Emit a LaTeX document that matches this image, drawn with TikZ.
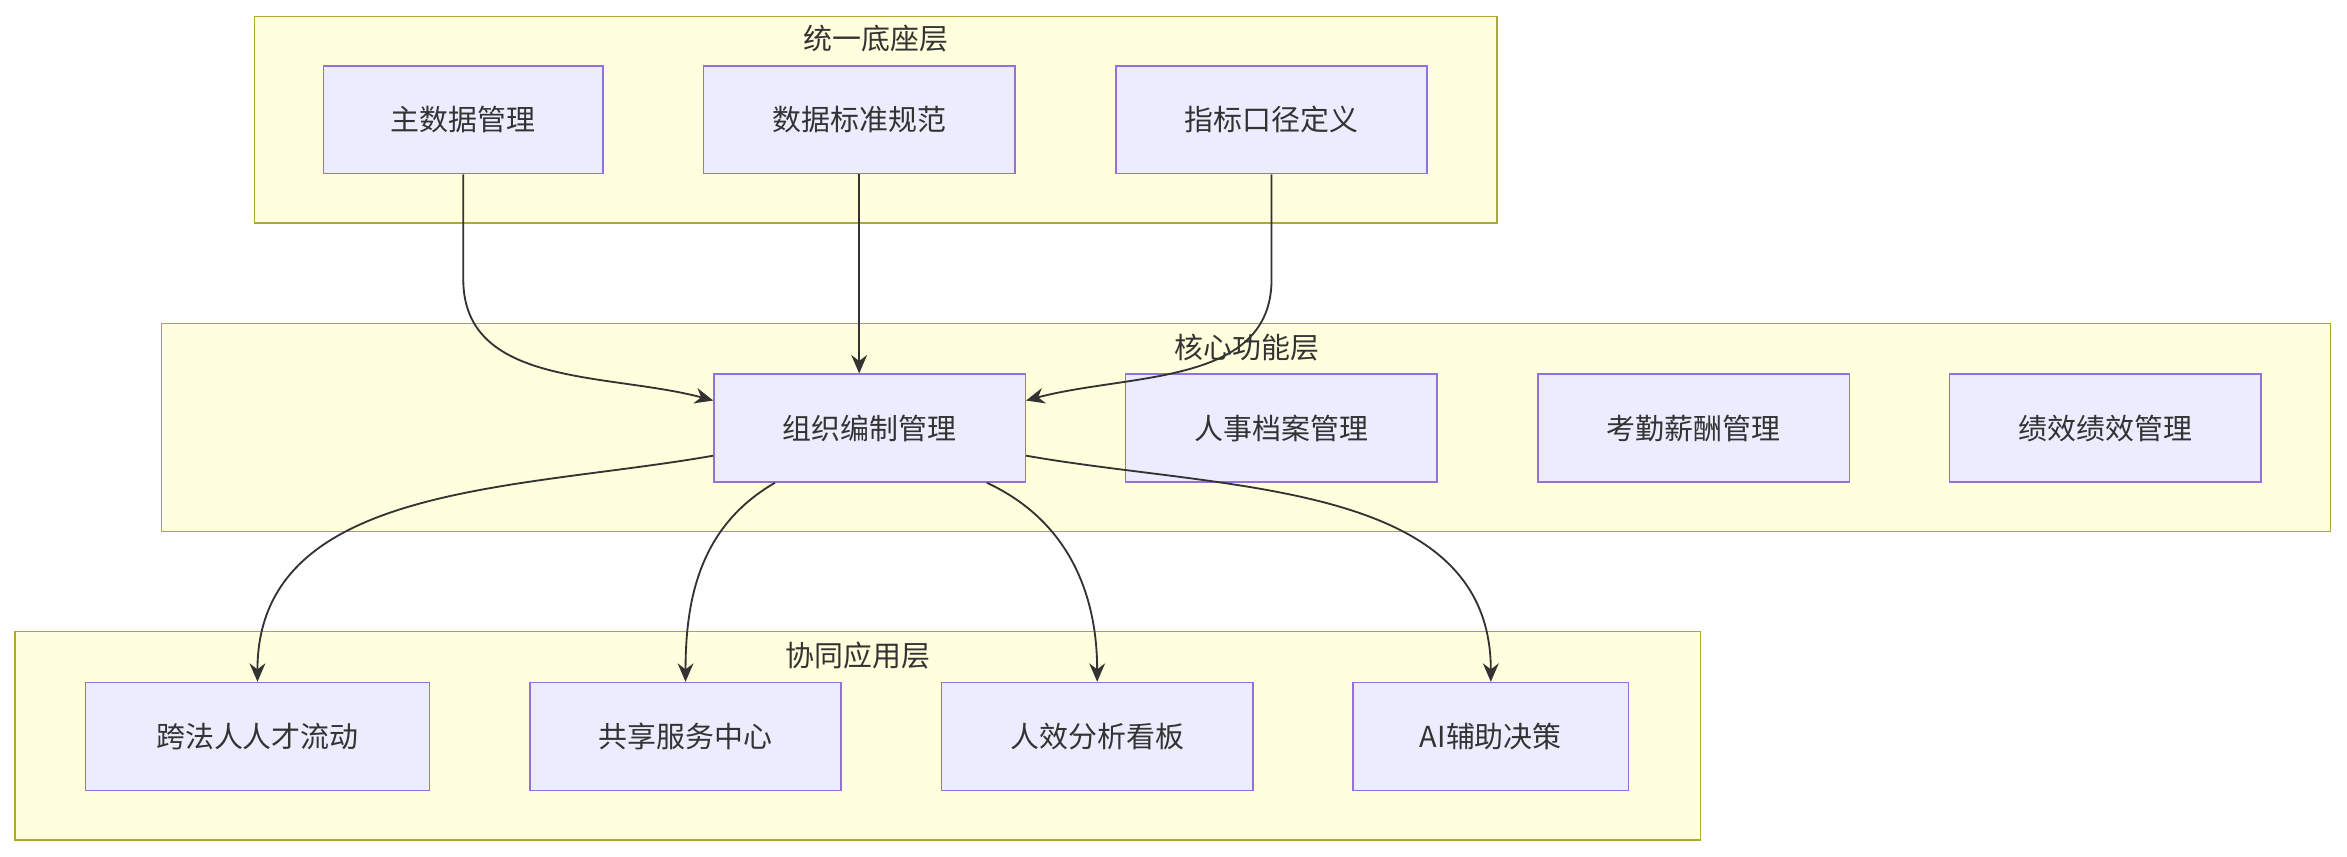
\documentclass[tikz,border=0pt]{standalone}
\usepackage{fontspec}
\setmainfont{Noto Sans CJK SC}
\usetikzlibrary{arrows.meta}
\definecolor{clfill}{HTML}{FFFFDE}
\definecolor{cldraw}{HTML}{AAAA33}
\definecolor{nfill}{HTML}{ECECFF}
\definecolor{ndraw}{HTML}{9370DB}
\definecolor{edge}{HTML}{333333}
\tikzset{
  layer/.style={draw=cldraw, fill=clfill, line width=0.6pt},
  layertitle/.style={font=\fontsize{11}{13}\selectfont, text=edge},
  box/.style={draw=ndraw, fill=nfill, line width=0.6pt, minimum width=4.16cm,
    minimum height=1.44cm, font=\fontsize{11}{13}\selectfont, text=edge},
  arr/.style={draw=edge, line width=0.7pt, -{Stealth[length=7pt,width=6pt]}}
}
\begin{document}
\begin{tikzpicture}[x=0.02cm, y=-0.02cm]
\useasboundingbox (0,0) rectangle (1568,572);

% layers
\draw[layer] (170,11) rectangle (1000,149);
\node[layertitle] (toptitle) at (585,26) {统一底座层};
\draw[layer] (108,216) rectangle (1557,355);
\node[layertitle] (midtitle) at (833,232) {核心功能层};
\draw[layer] (10,422) rectangle (1136,561);
\node[layertitle] (bottitle) at (573,438) {协同应用层};

% top
\node[box, minimum width=3.74cm] (master) at (309.5,80) {主数据管理};
\node[box] (standard) at (574,80) {数据标准规范};
\node[box] (metric) at (849.5,80) {指标口径定义};

% middle
\node[box] (org) at (581,286) {组织编制管理};
\node[box] (hr) at (856,286) {人事档案管理};
\node[box] (pay) at (1131.5,286) {考勤薪酬管理};
\node[box] (perf) at (1406.5,286) {绩效绩效管理};

% bottom
\node[box, minimum width=4.6cm] (talent) at (172,492) {跨法人人才流动};
\node[box] (share) at (458,492) {共享服务中心};
\node[box] (board) at (733,492) {人效分析看板};
\node[box, minimum width=3.68cm] (ai) at (996,492) {AI辅助决策};

% edges
\draw[arr] (master.south) -- ++(0,70) to[out=-90,in=165] (org.170);
\draw[arr] (standard.south) -- (standard.south |- org.north);
\draw[arr] (metric.south) -- ++(0,70) to[out=-90,in=15] (org.10);
\draw[arr] (org.190) to[out=190,in=90] (talent.north);
\draw[arr] (org.-150) to[out=-150,in=90] (share.north);
\draw[arr] (org.-25) to[out=-25,in=90] (board.north);
\draw[arr] (org.-10) to[out=-10,in=90] (ai.north);
\end{tikzpicture}
\end{document}
